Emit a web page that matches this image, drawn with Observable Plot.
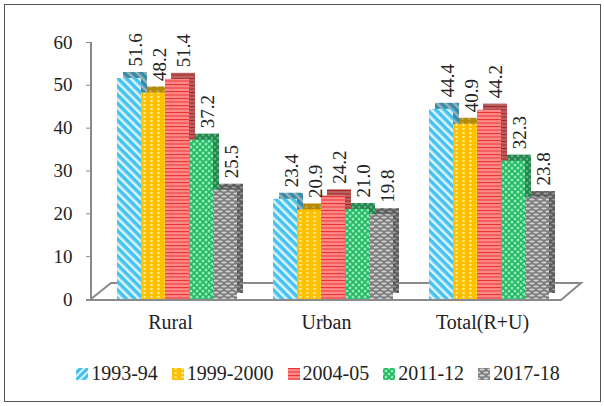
<!DOCTYPE html>
<html>
<head>
<meta charset="utf-8">
<script src="https://cdn.jsdelivr.net/npm/d3@7"></script>
<script src="https://cdn.jsdelivr.net/npm/@observablehq/plot@0.6"></script>
<style>
  body { margin: 0; background: #fff; width: 604px; height: 406px; overflow: hidden; position: relative; }
  #frame { position: absolute; left: 4px; top: 4px; width: 597px; height: 398px; border: 1px solid #555; box-sizing: border-box; }
  #chart { position: absolute; left: 0; top: 0; }
  #legend { position: absolute; left: 0; top: 362px; width: 636px; display: flex; justify-content: center; align-items: center;
            font-family: "Liberation Serif", "Times New Roman", serif; font-size: 20px; color: #222; }
  #legend .item { display: flex; align-items: center; margin: 0 7px; }
  #legend svg { margin-right: 3px; }
  #chart g[aria-label^="fx-axis"] text { font-size: 20px; }
</style>
</head>
<body>
<div id="frame"></div>
<div id="chart"></div>
<div id="legend"></div>
<script>
// ---- data ----
const categories = ["Rural", "Urban", "Total(R+U)"];
const periods = ["1993-94", "1999-2000", "2004-05", "2011-12", "2017-18"];
const v1993 = [51.6, 23.4, 44.4];
const v1999 = [48.2, 20.9, 40.9];
const v2004 = [51.4, 24.2, 44.2];
const v2011 = [37.2, 21.0, 32.3];
const v2017 = [25.5, 19.8, 23.8];
const yTicks = [0, 10, 20, 30, 40, 50, 60];

const series = [v1993, v1999, v2004, v2011, v2017];
const patternIds = ["pBlue", "pYellow", "pRed", "pGreen", "pGray"];

const data = [];
categories.forEach((c, i) => periods.forEach((p, j) => data.push({category: c, period: p, value: series[j][i]})));

const fillOf = d => `url(#${patternIds[periods.indexOf(d.period)]})`;
const depth = 6, shift = 7;

const plot = Plot.plot({
  width: 604,
  height: 345,
  marginLeft: 91,
  marginRight: 43,
  marginTop: 42,
  marginBottom: 46,
  style: {fontFamily: "'Liberation Serif', 'Times New Roman', serif", fontSize: "19px", color: "#222", background: "transparent"},
  facet: {data, x: "category"},
  fx: {domain: categories, padding: 0, label: null, tickSize: 0, tickPadding: 15},
  x: {domain: periods, paddingInner: 0, paddingOuter: 0.744, axis: null},
  y: {domain: [0, 60], ticks: yTicks, tickSize: 6, tickPadding: 14, label: null},
  marks: [
    // back/side faces (3D depth)
    Plot.barY(data, {x: "period", y: "value", fill: fillOf, dx: shift + depth, dy: -depth}),
    Plot.barY(data, {x: "period", y: "value", fill: "#000", fillOpacity: 0.28, dx: shift + depth, dy: -depth}),
    // front faces
    Plot.barY(data, {x: "period", y: "value", fill: fillOf, dx: shift}),
    // value labels
    Plot.text(data, {x: "period", y: "value", text: d => d.value.toFixed(1), rotate: -90, textAnchor: "start",
                     dx: shift + 6, dy: -12, fill: "#222", fontSize: 19})
  ]
});

document.getElementById("chart").appendChild(plot);
const svg = d3.select(plot.tagName.toLowerCase() === "svg" ? plot : plot.querySelector("svg"));

// patterns
const defs = svg.insert("defs", ":first-child");
function pat(id, w, h, build, transform) {
  const p = defs.append("pattern").attr("id", id).attr("patternUnits", "userSpaceOnUse").attr("width", w).attr("height", h);
  if (transform) p.attr("patternTransform", transform);
  build(p);
}
pat("pBlue", 6, 6, p => {
  p.append("rect").attr("width", 6).attr("height", 6).attr("fill", "#45C3F0");
  p.append("rect").attr("width", 2.5).attr("height", 6).attr("fill", "#DDF4FC");
}, "rotate(-45)");
pat("pBlueL", 5, 5, p => {
  p.append("rect").attr("width", 5).attr("height", 5).attr("fill", "#3FC0EE");
  p.append("rect").attr("width", 2).attr("height", 5).attr("fill", "#D9F3FC");
}, "rotate(45)");
pat("pYellow", 7, 4, p => {
  p.append("rect").attr("width", 7).attr("height", 4).attr("fill", "#FFC000");
  p.append("rect").attr("x", 2.5).attr("width", 2).attr("height", 2).attr("fill", "#FFEFA0");
});
pat("pRed", 4, 3.5, p => {
  p.append("rect").attr("width", 4).attr("height", 3.5).attr("fill", "#FF8A8A");
  p.append("rect").attr("width", 4).attr("height", 1).attr("fill", "#E8302E");
});
pat("pGreen", 6, 6, p => {
  p.append("rect").attr("width", 6).attr("height", 6).attr("fill", "#22B862");
  for (const [cx, cy] of [[0, 0], [6, 0], [0, 6], [6, 6], [3, 3]])
    p.append("circle").attr("cx", cx).attr("cy", cy).attr("r", 1.5).attr("fill", "#94E9B8");
});
pat("pGray", 8, 6, p => {
  p.append("rect").attr("width", 8).attr("height", 6).attr("fill", "#7E7E7E");
  for (const [cx, cy] of [[4, 1.5], [0, 4.5], [8, 4.5]])
    p.append("ellipse").attr("cx", cx).attr("cy", cy).attr("rx", 2.6).attr("ry", 1.1).attr("fill", "#D4D4D4");
});

// style y axis ticks gray
svg.selectAll('[aria-label^="y-axis"] line, [aria-label^="y-axis"] path').attr("stroke", "#8a8a8a").style("stroke", "#8a8a8a");
svg.selectAll('[aria-label^="y-axis"] text, [aria-label^="fx-axis"] text').attr("fill", "#222");

// 3D floor and y-axis line from the scales
const ys = plot.scale("y"), fxs = plot.scale("fx");
const y0 = ys.apply(0), yTop = ys.apply(60);
const xL = fxs.range[0], xR = fxs.range[1];
const floor = svg.insert("g", "defs + *").attr("fill", "none").attr("stroke", "#8a8a8a").attr("stroke-width", 2);
const d = 20, h = 16;
floor.append("path").attr("d", `M${xL},${y0}L${xL + d},${y0 - h}L${xR + d},${y0 - h}L${xR},${y0 + 1}L${xL - 5},${y0 + 1}`);
floor.append("line").attr("x1", xL).attr("x2", xL).attr("y1", yTop).attr("y2", y0 + 1);

// legend
const legend = d3.select("#legend");
const legendPats = ["pBlueL", "pYellow", "pRed", "pGreen", "pGray"];
periods.forEach((p, i) => {
  const it = legend.append("div").attr("class", "item");
  it.append("svg").attr("width", 12).attr("height", 12)
    .append("rect").attr("width", 12).attr("height", 12).attr("fill", `url(#${legendPats[i]})`);
  it.append("span").text(p);
});
</script>
</body>
</html>
